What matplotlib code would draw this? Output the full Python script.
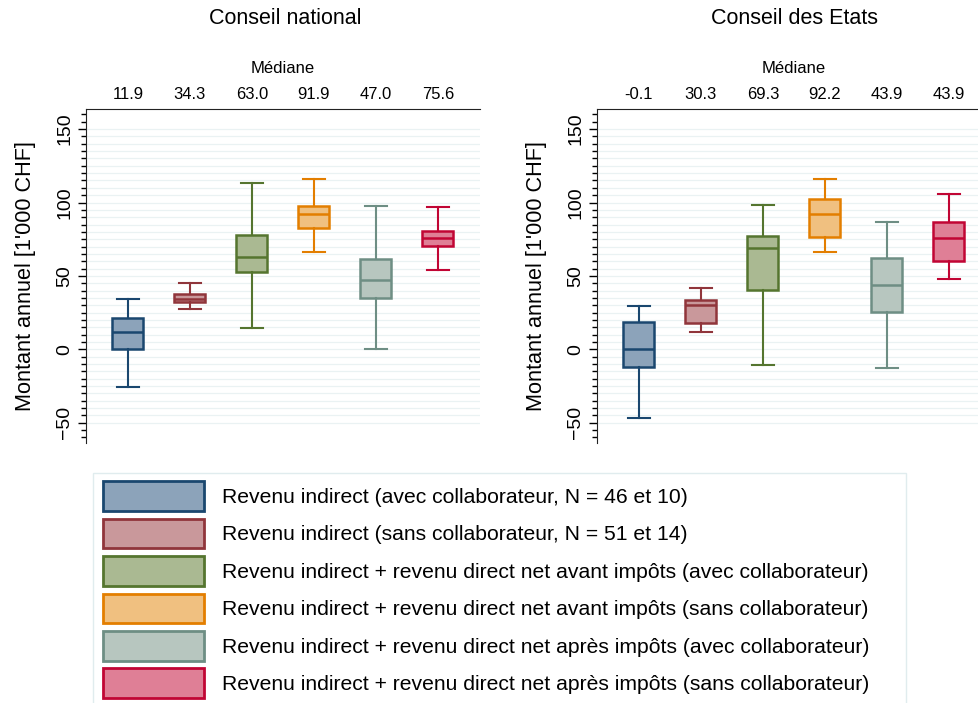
import matplotlib
matplotlib.use("Agg")
import matplotlib.pyplot as plt
from matplotlib.patches import Patch, Rectangle
from matplotlib.ticker import MultipleLocator

plt.rcParams['font.family'] = ['Liberation Sans', 'DejaVu Sans']

panels = ["Conseil national", "Conseil des Etats"]
labels = [
    "Revenu indirect (avec collaborateur, N = 46 et 10)",
    "Revenu indirect (sans collaborateur, N = 51 et 14)",
    "Revenu indirect + revenu direct net avant impôts (avec collaborateur)",
    "Revenu indirect + revenu direct net avant impôts (sans collaborateur)",
    "Revenu indirect + revenu direct net après impôts (avec collaborateur)",
    "Revenu indirect + revenu direct net après impôts (sans collaborateur)",
]
edge_colors = ["#1a476f", "#90353b", "#55752f", "#e37e00", "#6e8e84", "#c10534"]
fill_colors = ["#8ca3ba", "#c9989b", "#aab992", "#f0c080", "#b7c6bf", "#df7f96"]

# Median labels as printed above each panel
median_labels_cn = ["11.9", "34.3", "63.0", "91.9", "47.0", "75.6"]
median_labels_ce = ["-0.1", "30.3", "69.3", "92.2", "43.9", "43.9"]

# Conseil national: whisker low, q1, median, q3, whisker high
cn_whislo = [-25.5, 27.7, 14.7, 66.1, 0.0, 53.8]
cn_q1 = [0.0, 32.0, 52.7, 82.6, 34.7, 70.4]
cn_med = [11.9, 34.3, 63.0, 91.9, 47.0, 75.6]
cn_q3 = [21.5, 37.7, 77.9, 97.6, 61.5, 80.8]
cn_whishi = [34.3, 45.2, 113.5, 116.0, 97.8, 97.2]

# Conseil des Etats
ce_whislo = [-46.8, 11.8, -10.9, 66.1, -12.7, 47.7]
ce_q1 = [-11.8, 18.1, 40.6, 76.3, 25.4, 60.4]
ce_med = [-0.1, 30.3, 69.3, 92.2, 43.9, 76.0]
ce_q3 = [18.8, 33.6, 77.4, 102.2, 62.4, 86.5]
ce_whishi = [29.3, 42.0, 98.3, 116.2, 86.9, 106.0]

W, H = 979, 703
fig = plt.figure(figsize=(W / 100, H / 100), dpi=100)

def make_axes(x0, x1, y0, y1):
    return fig.add_axes([x0 / W, 1 - y1 / H, (x1 - x0) / W, (y1 - y0) / H])

ax_l = make_axes(85.7, 480, 109, 443)
ax_r = make_axes(596.7, 991, 109, 443)

datasets = [
    (ax_l, median_labels_cn, cn_whislo, cn_q1, cn_med, cn_q3, cn_whishi),
    (ax_r, median_labels_ce, ce_whislo, ce_q1, ce_med, ce_q3, ce_whishi),
]

for ax, mlabels, wlo, q1, med, q3, whi in datasets:
    n = len(med)
    positions = list(range(1, n + 1))
    for v in range(-50, 151, 5):
        ax.axhline(v, color="#eaf2f3", lw=0.9, zorder=0)
    for i in range(n):
        stats = [dict(whislo=wlo[i], q1=q1[i], med=med[i], q3=q3[i], whishi=whi[i], fliers=[])]
        ax.bxp(stats, positions=[positions[i]], widths=0.5, patch_artist=True,
               showfliers=False, manage_ticks=False,
               boxprops=dict(facecolor=fill_colors[i], edgecolor=edge_colors[i], linewidth=1.8),
               medianprops=dict(color=edge_colors[i], linewidth=1.8),
               whiskerprops=dict(color=edge_colors[i], linewidth=1.5),
               capprops=dict(color=edge_colors[i], linewidth=1.5),
               capwidths=0.35)
    ax.set_xlim(0.32, 6.68)
    ax.set_ylim(-63.8, 163.7)
    ax.spines['right'].set_visible(False)
    ax.spines['bottom'].set_visible(False)
    ax.spines['top'].set_color("#222222")
    ax.spines['left'].set_color("#222222")
    ax.yaxis.set_major_locator(MultipleLocator(50))
    ax.yaxis.set_minor_locator(MultipleLocator(5))
    ax.tick_params(axis='y', which='major', length=6, width=1, labelsize=14, pad=3)
    ax.tick_params(axis='y', which='minor', length=3.5, width=1)
    for lab in ax.get_yticklabels():
        lab.set_rotation(90)
        lab.set_va('center')
    ax.xaxis.tick_top()
    ax.set_xticks(positions)
    ax.set_xticklabels(mlabels, fontsize=12)
    ax.tick_params(axis='x', which='both', length=0, pad=5)
    ax.xaxis.set_label_position('top')
    ax.set_xlabel("Médiane", fontsize=12, labelpad=10)
    ax.set_ylabel("Montant annuel [1'000 CHF]", fontsize=15.6)
    ax.yaxis.set_label_coords(-0.126, 0.5)

fig.text(285 / W, 1 - 19 / H, panels[0], ha='center', va='center', fontsize=15.5)
fig.text(795 / W, 1 - 19 / H, panels[1], ha='center', va='center', fontsize=15.5)

# Legend frame (extends past the bottom edge as in the reference)
fig.patches.append(Rectangle((93 / W, 1 - 712 / H), (906 - 93) / W, (712 - 473) / H,
                             transform=fig.transFigure, facecolor='white',
                             edgecolor="#e0ecee", linewidth=1.0, zorder=0))

handles = [Patch(facecolor=fill_colors[i], edgecolor=edge_colors[i], linewidth=2.0)
           for i in range(len(labels))]
fs = 15.2
leg = fig.legend(handles, labels, loc='upper left',
                 bbox_to_anchor=(93 / W, 1 - 471 / H),
                 fontsize=fs, frameon=False,
                 handlelength=4.8, handleheight=1.8, handletextpad=0.85,
                 labelspacing=0.36, borderpad=0.48, borderaxespad=0)

fig.savefig("out.png", dpi=100)
